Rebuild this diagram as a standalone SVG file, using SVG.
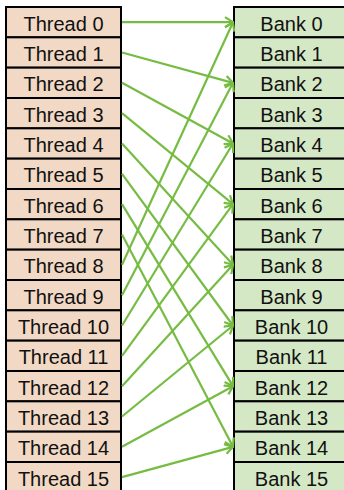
<svg xmlns="http://www.w3.org/2000/svg" width="344" height="490" viewBox="0 0 344 490">
<style>
.t{fill:#f2d9c5;stroke:#000;stroke-width:2}
.b{fill:#d5e8c5;stroke:#000;stroke-width:2}
text{font-family:"Liberation Sans",Arial,sans-serif;font-size:20px;fill:#111;text-anchor:middle}
.c line{stroke:#76bc43;stroke-width:2.2;marker-end:url(#ah)}
</style>
<defs>
<marker id="ah" markerUnits="userSpaceOnUse" viewBox="0 0 10 12" refX="9" refY="6" markerWidth="10" markerHeight="12" orient="auto">
<path d="M1,1 L9,6 L1,11" fill="none" stroke="#76bc43" stroke-width="2.2"/>
</marker>
</defs>
<g id="threads">
<g id="t0"><rect class="t" x="6" y="7" width="115" height="30.33"/><text x="63.5" y="30.7">Thread 0</text></g>
<g id="t1"><rect class="t" x="6" y="37.33" width="115" height="30.33"/><text x="63.5" y="61">Thread 1</text></g>
<g id="t2"><rect class="t" x="6" y="67.67" width="115" height="30.33"/><text x="63.5" y="91.4">Thread 2</text></g>
<g id="t3"><rect class="t" x="6" y="98" width="115" height="30.33"/><text x="63.5" y="121.7">Thread 3</text></g>
<g id="t4"><rect class="t" x="6" y="128.33" width="115" height="30.33"/><text x="63.5" y="152">Thread 4</text></g>
<g id="t5"><rect class="t" x="6" y="158.67" width="115" height="30.33"/><text x="63.5" y="182.4">Thread 5</text></g>
<g id="t6"><rect class="t" x="6" y="189" width="115" height="30.33"/><text x="63.5" y="212.7">Thread 6</text></g>
<g id="t7"><rect class="t" x="6" y="219.33" width="115" height="30.33"/><text x="63.5" y="243">Thread 7</text></g>
<g id="t8"><rect class="t" x="6" y="249.67" width="115" height="30.33"/><text x="63.5" y="273.4">Thread 8</text></g>
<g id="t9"><rect class="t" x="6" y="280" width="115" height="30.33"/><text x="63.5" y="303.7">Thread 9</text></g>
<g id="t10"><rect class="t" x="6" y="310.33" width="115" height="30.33"/><text x="63.5" y="334">Thread 10</text></g>
<g id="t11"><rect class="t" x="6" y="340.67" width="115" height="30.33"/><text x="63.5" y="364.4">Thread 11</text></g>
<g id="t12"><rect class="t" x="6" y="371" width="115" height="30.33"/><text x="63.5" y="394.7">Thread 12</text></g>
<g id="t13"><rect class="t" x="6" y="401.33" width="115" height="30.33"/><text x="63.5" y="425">Thread 13</text></g>
<g id="t14"><rect class="t" x="6" y="431.67" width="115" height="30.33"/><text x="63.5" y="455.4">Thread 14</text></g>
<g id="t15"><rect class="t" x="6" y="462" width="115" height="30.33"/><text x="63.5" y="485.7">Thread 15</text></g>
</g>
<g id="banks">
<g id="b0"><rect class="b" x="234" y="7" width="115" height="30.33"/><text x="291.5" y="30.7">Bank 0</text></g>
<g id="b1"><rect class="b" x="234" y="37.33" width="115" height="30.33"/><text x="291.5" y="61">Bank 1</text></g>
<g id="b2"><rect class="b" x="234" y="67.67" width="115" height="30.33"/><text x="291.5" y="91.4">Bank 2</text></g>
<g id="b3"><rect class="b" x="234" y="98" width="115" height="30.33"/><text x="291.5" y="121.7">Bank 3</text></g>
<g id="b4"><rect class="b" x="234" y="128.33" width="115" height="30.33"/><text x="291.5" y="152">Bank 4</text></g>
<g id="b5"><rect class="b" x="234" y="158.67" width="115" height="30.33"/><text x="291.5" y="182.4">Bank 5</text></g>
<g id="b6"><rect class="b" x="234" y="189" width="115" height="30.33"/><text x="291.5" y="212.7">Bank 6</text></g>
<g id="b7"><rect class="b" x="234" y="219.33" width="115" height="30.33"/><text x="291.5" y="243">Bank 7</text></g>
<g id="b8"><rect class="b" x="234" y="249.67" width="115" height="30.33"/><text x="291.5" y="273.4">Bank 8</text></g>
<g id="b9"><rect class="b" x="234" y="280" width="115" height="30.33"/><text x="291.5" y="303.7">Bank 9</text></g>
<g id="b10"><rect class="b" x="234" y="310.33" width="115" height="30.33"/><text x="291.5" y="334">Bank 10</text></g>
<g id="b11"><rect class="b" x="234" y="340.67" width="115" height="30.33"/><text x="291.5" y="364.4">Bank 11</text></g>
<g id="b12"><rect class="b" x="234" y="371" width="115" height="30.33"/><text x="291.5" y="394.7">Bank 12</text></g>
<g id="b13"><rect class="b" x="234" y="401.33" width="115" height="30.33"/><text x="291.5" y="425">Bank 13</text></g>
<g id="b14"><rect class="b" x="234" y="431.67" width="115" height="30.33"/><text x="291.5" y="455.4">Bank 14</text></g>
<g id="b15"><rect class="b" x="234" y="462" width="115" height="30.33"/><text x="291.5" y="485.7">Bank 15</text></g>
</g>
<g id="connectors" class="c">
<line x1="122" y1="22.17" x2="233" y2="22.17"/>
<line x1="122" y1="52.5" x2="233" y2="82.83"/>
<line x1="122" y1="82.83" x2="233" y2="143.5"/>
<line x1="122" y1="113.17" x2="233" y2="204.17"/>
<line x1="122" y1="143.5" x2="233" y2="264.83"/>
<line x1="122" y1="173.83" x2="233" y2="325.5"/>
<line x1="122" y1="204.17" x2="233" y2="386.17"/>
<line x1="122" y1="234.5" x2="233" y2="446.83"/>
<line x1="122" y1="264.83" x2="233" y2="22.17"/>
<line x1="122" y1="295.17" x2="233" y2="82.83"/>
<line x1="122" y1="325.5" x2="233" y2="143.5"/>
<line x1="122" y1="355.83" x2="233" y2="204.17"/>
<line x1="122" y1="386.17" x2="233" y2="264.83"/>
<line x1="122" y1="416.5" x2="233" y2="325.5"/>
<line x1="122" y1="446.83" x2="233" y2="386.17"/>
<line x1="122" y1="477.17" x2="233" y2="446.83"/>
</g>
</svg>
